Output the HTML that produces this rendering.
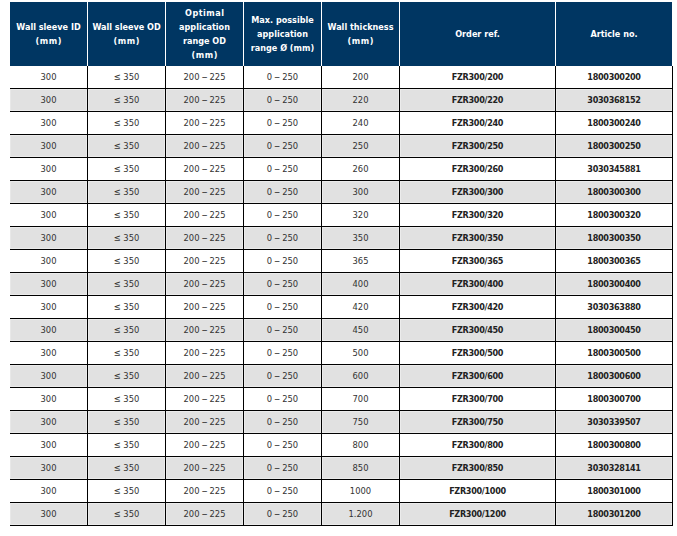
<!DOCTYPE html>
<html lang="en"><head><meta charset="utf-8"><title>Wall sleeve dimensions</title>
<style>
*{margin:0;padding:0;box-sizing:border-box}
html,body{width:677px;height:536px;overflow:hidden;background:#fff}
body{position:relative;font-family:"DejaVu Sans Condensed","Liberation Sans",sans-serif}
table{position:absolute;left:10px;top:2px;width:663px;table-layout:fixed;border-collapse:separate;border-spacing:0}
th,td{padding:0;text-align:center;vertical-align:middle;white-space:nowrap;overflow:hidden}
th{height:64px;background:#003662;color:#fff;font-weight:bold;font-size:9px;line-height:14px;border-right:1px solid #fff}
th:last-child{border-right:0;padding-right:1px;background:linear-gradient(to right,#003662 116px,#fff 116px)}
td{height:23px;line-height:22px;font-size:9.3px;color:#333;border-right:1px solid #000;border-bottom:1px solid #000}
th span{letter-spacing:0.6px;margin-right:-0.6px}
th span.o{letter-spacing:0.5px;margin-right:-0.5px}
td span{font-family:"Liberation Sans",sans-serif;color:#000;font-size:8.5px}
td.b{font-weight:bold;font-size:9px;letter-spacing:-0.3px;color:#222}
tr.g td{background:#e1e1e1;box-shadow:inset 0 0 0 1px #ebebeb}
tr.g td:first-child{box-shadow:inset 1px 0 0 #e8e8e8,inset 0 0 0 1px #ebebeb}
</style></head>
<body>
<table>
<colgroup><col style="width:78px"><col style="width:78px"><col style="width:78px"><col style="width:78px"><col style="width:78px"><col style="width:156px"><col style="width:117px"></colgroup>
<thead><tr>
<th>Wall sleeve ID<br><span>(mm)</span></th>
<th>Wall sleeve OD<br><span>(mm)</span></th>
<th><span class="o">Optimal</span><br>application<br>range OD<br><span>(mm)</span></th>
<th>Max. possible<br>application<br>range &Oslash; (mm)</th>
<th>Wall thickness<br><span>(mm)</span></th>
<th>Order ref.</th>
<th>Article no.</th>
</tr></thead><tbody>
<tr><td>300</td><td>&le; 350</td><td>200 <span>&ndash;</span> 225</td><td>0 <span>&ndash;</span> 250</td><td>200</td><td class="b">FZR300/200</td><td class="b">1800300200</td></tr>
<tr class="g"><td>300</td><td>&le; 350</td><td>200 <span>&ndash;</span> 225</td><td>0 <span>&ndash;</span> 250</td><td>220</td><td class="b">FZR300/220</td><td class="b">3030368152</td></tr>
<tr><td>300</td><td>&le; 350</td><td>200 <span>&ndash;</span> 225</td><td>0 <span>&ndash;</span> 250</td><td>240</td><td class="b">FZR300/240</td><td class="b">1800300240</td></tr>
<tr class="g"><td>300</td><td>&le; 350</td><td>200 <span>&ndash;</span> 225</td><td>0 <span>&ndash;</span> 250</td><td>250</td><td class="b">FZR300/250</td><td class="b">1800300250</td></tr>
<tr><td>300</td><td>&le; 350</td><td>200 <span>&ndash;</span> 225</td><td>0 <span>&ndash;</span> 250</td><td>260</td><td class="b">FZR300/260</td><td class="b">3030345881</td></tr>
<tr class="g"><td>300</td><td>&le; 350</td><td>200 <span>&ndash;</span> 225</td><td>0 <span>&ndash;</span> 250</td><td>300</td><td class="b">FZR300/300</td><td class="b">1800300300</td></tr>
<tr><td>300</td><td>&le; 350</td><td>200 <span>&ndash;</span> 225</td><td>0 <span>&ndash;</span> 250</td><td>320</td><td class="b">FZR300/320</td><td class="b">1800300320</td></tr>
<tr class="g"><td>300</td><td>&le; 350</td><td>200 <span>&ndash;</span> 225</td><td>0 <span>&ndash;</span> 250</td><td>350</td><td class="b">FZR300/350</td><td class="b">1800300350</td></tr>
<tr><td>300</td><td>&le; 350</td><td>200 <span>&ndash;</span> 225</td><td>0 <span>&ndash;</span> 250</td><td>365</td><td class="b">FZR300/365</td><td class="b">1800300365</td></tr>
<tr class="g"><td>300</td><td>&le; 350</td><td>200 <span>&ndash;</span> 225</td><td>0 <span>&ndash;</span> 250</td><td>400</td><td class="b">FZR300/400</td><td class="b">1800300400</td></tr>
<tr><td>300</td><td>&le; 350</td><td>200 <span>&ndash;</span> 225</td><td>0 <span>&ndash;</span> 250</td><td>420</td><td class="b">FZR300/420</td><td class="b">3030363880</td></tr>
<tr class="g"><td>300</td><td>&le; 350</td><td>200 <span>&ndash;</span> 225</td><td>0 <span>&ndash;</span> 250</td><td>450</td><td class="b">FZR300/450</td><td class="b">1800300450</td></tr>
<tr><td>300</td><td>&le; 350</td><td>200 <span>&ndash;</span> 225</td><td>0 <span>&ndash;</span> 250</td><td>500</td><td class="b">FZR300/500</td><td class="b">1800300500</td></tr>
<tr class="g"><td>300</td><td>&le; 350</td><td>200 <span>&ndash;</span> 225</td><td>0 <span>&ndash;</span> 250</td><td>600</td><td class="b">FZR300/600</td><td class="b">1800300600</td></tr>
<tr><td>300</td><td>&le; 350</td><td>200 <span>&ndash;</span> 225</td><td>0 <span>&ndash;</span> 250</td><td>700</td><td class="b">FZR300/700</td><td class="b">1800300700</td></tr>
<tr class="g"><td>300</td><td>&le; 350</td><td>200 <span>&ndash;</span> 225</td><td>0 <span>&ndash;</span> 250</td><td>750</td><td class="b">FZR300/750</td><td class="b">3030339507</td></tr>
<tr><td>300</td><td>&le; 350</td><td>200 <span>&ndash;</span> 225</td><td>0 <span>&ndash;</span> 250</td><td>800</td><td class="b">FZR300/800</td><td class="b">1800300800</td></tr>
<tr class="g"><td>300</td><td>&le; 350</td><td>200 <span>&ndash;</span> 225</td><td>0 <span>&ndash;</span> 250</td><td>850</td><td class="b">FZR300/850</td><td class="b">3030328141</td></tr>
<tr><td>300</td><td>&le; 350</td><td>200 <span>&ndash;</span> 225</td><td>0 <span>&ndash;</span> 250</td><td>1000</td><td class="b">FZR300/1000</td><td class="b">1800301000</td></tr>
<tr class="g"><td>300</td><td>&le; 350</td><td>200 <span>&ndash;</span> 225</td><td>0 <span>&ndash;</span> 250</td><td>1.200</td><td class="b">FZR300/1200</td><td class="b">1800301200</td></tr>
</tbody></table>
</body></html>
